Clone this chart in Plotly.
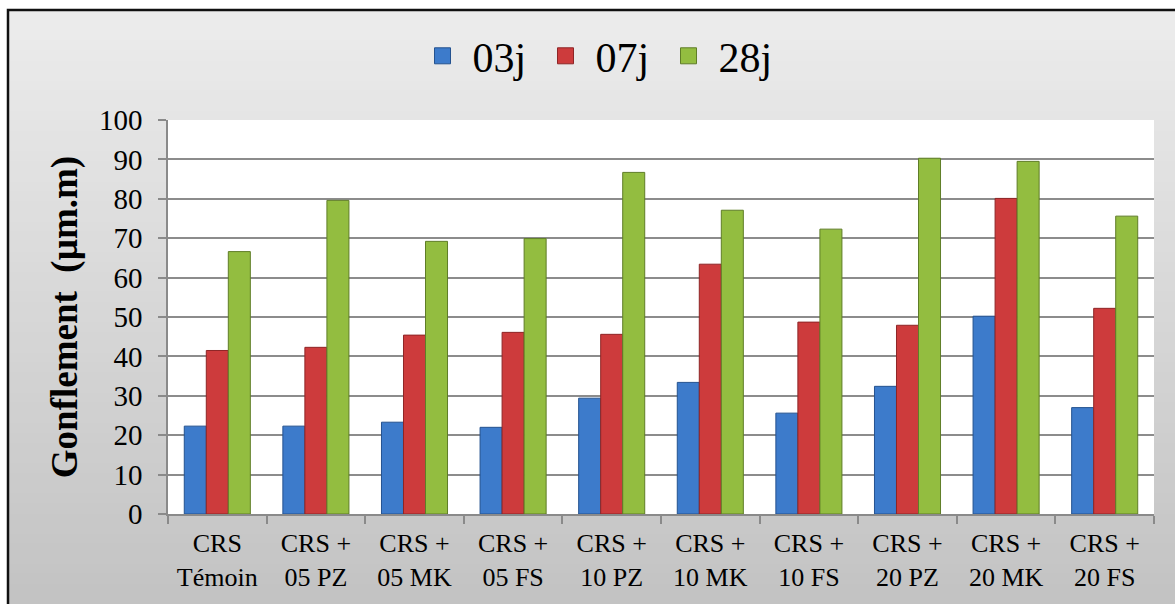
import plotly.graph_objects as go

# Swelling measurements (µm.m) per mix and curing age
categories = ["CRS<br>Témoin", "CRS +<br>05 PZ", "CRS +<br>05 MK", "CRS +<br>05 FS",
              "CRS +<br>10 PZ", "CRS +<br>10 MK", "CRS +<br>10 FS", "CRS +<br>20 PZ",
              "CRS +<br>20 MK", "CRS +<br>20 FS"]
series_names = ["03j", "07j", "28j"]
values_03j = [22.3, 22.3, 23.3, 22.0, 29.4, 33.4, 25.6, 32.4, 50.2, 27.0]
values_07j = [41.5, 42.3, 45.4, 46.1, 45.6, 63.4, 48.7, 47.9, 80.1, 52.2]
values_28j = [66.6, 79.6, 69.2, 69.9, 86.7, 77.1, 72.3, 90.3, 89.5, 75.6]
y_ticks = [0, 10, 20, 30, 40, 50, 60, 70, 80, 90, 100]

fill_colors = ["#3d7bcb", "#cd3b3c", "#93bd40"]
edge_colors = ["#24528f", "#8e2526", "#5f7d27"]
FONT = "Liberation Serif"

W, H = 1175, 604
L, R, T, B = 168, 21, 120, 90
pw, ph = W - L - R, H - T - B


def px_to_paper_x(px):
    return (px - L) / pw


def px_to_paper_y(py):
    return (H - B - py) / ph


fig = go.Figure()
for name, vals, fc, ec in zip(series_names, [values_03j, values_07j, values_28j],
                              fill_colors, edge_colors):
    fig.add_trace(go.Bar(
        x=categories, y=vals, name=name, showlegend=False,
        marker=dict(color=fc, line=dict(color=ec, width=1)),
    ))
    # legend swatch
    fig.add_trace(go.Scatter(
        x=[None], y=[None], name=name, mode="markers",
        marker=dict(symbol="square", size=22, color=fc, line=dict(color=ec, width=1)),
    ))

# chart-area background: vertical grey gradient inside a black frame
shapes = []
x0, x1 = px_to_paper_x(8), px_to_paper_x(W + 10)
top_px, bot_px = 10, H + 10
n_bands = 60
c_top, c_bot = (236, 236, 236), (194, 194, 194)
for i in range(n_bands):
    t = i / (n_bands - 1)
    c = tuple(round(a + (b - a) * t) for a, b in zip(c_top, c_bot))
    ya = top_px + (bot_px - top_px) * i / n_bands
    yb = top_px + (bot_px - top_px) * (i + 1) / n_bands + 1
    shapes.append(dict(type="rect", xref="paper", yref="paper", layer="below",
                       x0=x0, x1=x1, y0=px_to_paper_y(yb), y1=px_to_paper_y(ya),
                       fillcolor="rgb(%d,%d,%d)" % c, line=dict(width=0)))
shapes.append(dict(type="rect", xref="paper", yref="paper", layer="below",
                   x0=0, x1=1, y0=0, y1=1, fillcolor="white", line=dict(width=0)))
shapes.append(dict(type="rect", xref="paper", yref="paper", layer="above",
                   x0=x0, x1=x1, y0=px_to_paper_y(bot_px), y1=px_to_paper_y(top_px),
                   fillcolor="rgba(0,0,0,0)", line=dict(color="#111111", width=2.5)))

fig.update_layout(
    width=W, height=H,
    margin=dict(l=L, r=R, t=T, b=B, pad=0),
    paper_bgcolor="white",
    plot_bgcolor="white",
    barmode="group",
    bargap=0.33,
    bargroupgap=0,
    font=dict(family=FONT, color="black"),
    shapes=shapes,
    legend=dict(
        orientation="h", x=px_to_paper_x(597), y=px_to_paper_y(56),
        xanchor="center", yanchor="middle",
        font=dict(size=42, family=FONT), bgcolor="rgba(0,0,0,0)",
        itemwidth=50, entrywidth=58, entrywidthmode="pixels", tracegroupgap=0,
    ),
    xaxis=dict(
        type="category", showgrid=False, showline=True, linecolor="#8a8a8a", linewidth=1.5,
        ticks="outside", tickson="boundaries", ticklen=8, tickcolor="#8a8a8a", tickwidth=1.5,
        tickfont=dict(size=26, family=FONT), ticklabelstandoff=5, fixedrange=True,
    ),
    yaxis=dict(
        range=[0, 100], tickvals=y_ticks, showgrid=True, gridcolor="#8c8c8c", gridwidth=1.5,
        showline=True, linecolor="#8a8a8a", linewidth=1.5, zeroline=False,
        ticks="outside", ticklen=8, tickcolor="#8a8a8a", tickwidth=1.5,
        tickfont=dict(size=29, family=FONT), ticklabelstandoff=10,
        title=dict(text="<b>Gonflement \u00a0(µm.m)</b>", font=dict(size=37, family=FONT), standoff=10),
    ),
)

fig.write_html("out.html")
